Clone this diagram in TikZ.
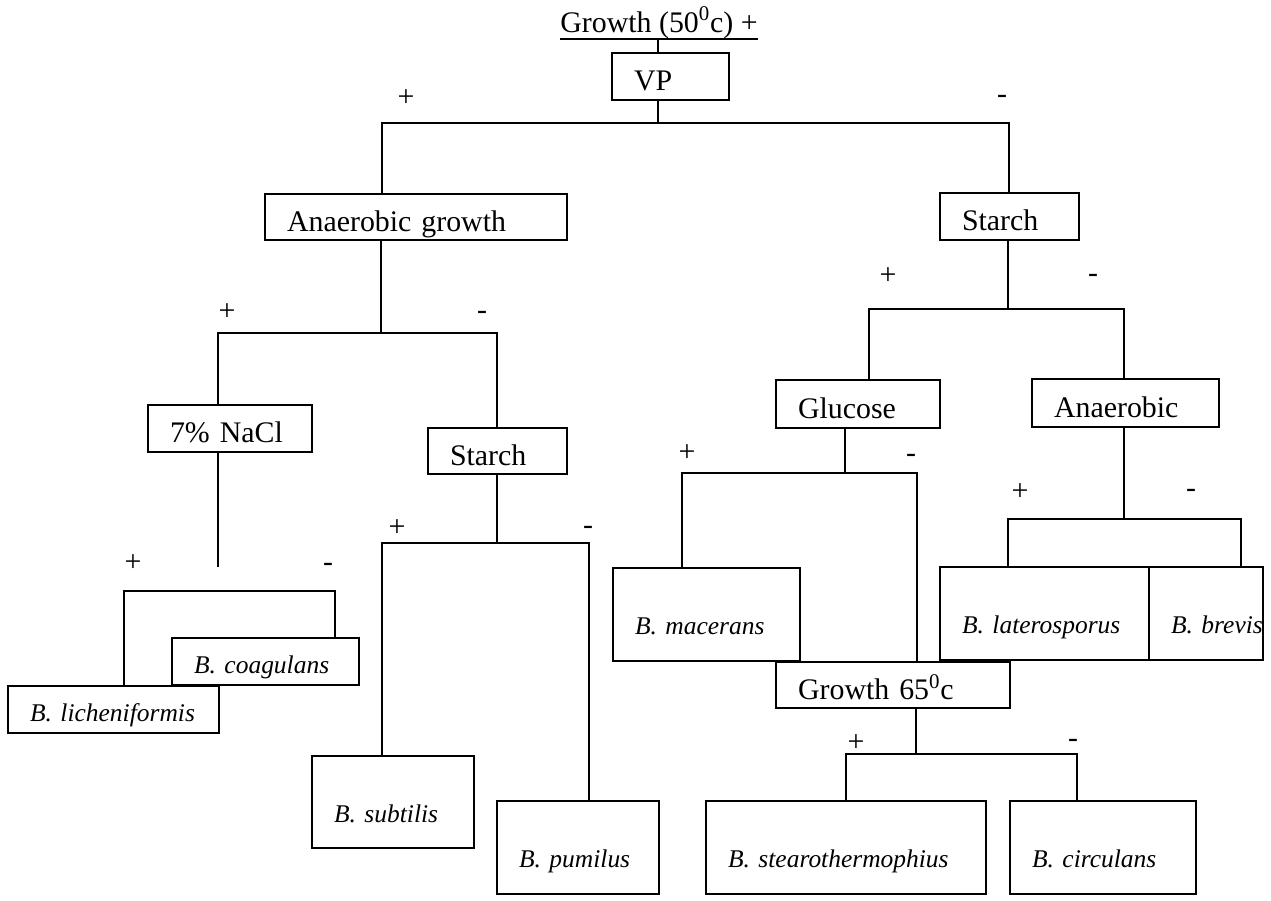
\documentclass[tikz,border=0pt]{standalone}
\usepackage{fontspec}
\setmainfont{Liberation Serif}
\usepackage{tikz}

\tikzstyle{box} = [rectangle, draw=black, line width=1.2pt, anchor=north west, inner xsep=0.44cm, inner ysep=0pt, align=left, text height=0.56cm, text depth=0pt, font=\fontsize{17}{20}\selectfont]
\tikzstyle{species} = [box, text height=0.8cm, font=\itshape\fontsize{14.5}{17}\selectfont]
\tikzstyle{outcome} = [inner sep=0pt, font=\fontsize{17}{20}\selectfont]
\tikzstyle{branch} = [line width=1pt]

\begin{document}
\begin{tikzpicture}[x=0.02cm, y=-0.02cm]

    \useasboundingbox (0,0) rectangle (1271,900);

    % Nodes
    \node (title) [anchor=base west, inner sep=0pt, text depth=0.14cm, font=\fontsize{17}{20}\selectfont] at (560,32) {Growth (50\textsuperscript{0}c) +};
    \node (vp) [box, text width=1.46cm, minimum height=0.94cm] at (611,52) {VP};
    \node (anaer) [box, text width=5.16cm, minimum height=0.92cm] at (264,193) {Anaerobic growth};
    \node (starchR) [box, text width=1.90cm, minimum height=0.94cm] at (939,192) {Starch};
    \node (nacl) [box, text width=2.40cm, minimum height=0.94cm] at (147,404) {7\% NaCl};
    \node (starchL) [box, text width=1.90cm, minimum height=0.92cm] at (427,427) {Starch};
    \node (glucose) [box, text width=2.40cm, minimum height=0.96cm] at (775,379) {Glucose};
    \node (anaerR) [box, text width=2.86cm, minimum height=0.96cm] at (1031,378) {Anaerobic};
    \node (coag) [species, text height=0.48cm, text width=2.86cm, minimum height=0.94cm] at (171,637) {\mbox{B. coagulans}};
    \node (lichen) [species, text height=0.48cm, text width=3.34cm, minimum height=0.94cm] at (7,685) {\mbox{B. licheniformis}};
    \node (subtilis) [species, text width=2.36cm, minimum height=1.84cm] at (311,755) {\mbox{B. subtilis}};
    \node (pumilus) [species, text width=2.36cm, minimum height=1.86cm] at (496,800) {\mbox{B. pumilus}};
    \node (macerans) [species, text width=2.86cm, minimum height=1.86cm] at (612,567) {\mbox{B. macerans}};
    \node (lateros) [species, text width=3.30cm, minimum height=1.86cm] at (939,566) {\mbox{B. laterosporus}};
    \node (brevis) [species, text width=1.40cm, minimum height=1.86cm] at (1148,566) {\mbox{B. brevis}};
    \node (g65) [box, text width=3.80cm, minimum height=0.92cm] at (775,661) {Growth 65\textsuperscript{0}c};
    \node (stearo) [species, text width=4.72cm, minimum height=1.86cm] at (705,800) {\mbox{B. stearothermophius}};
    \node (circ) [species, text width=2.84cm, minimum height=1.86cm] at (1009,800) {\mbox{B. circulans}};

    % Signs
    \node (vpplus) [outcome] at (406,98) {+};
    \node (vpminus) [outcome] at (1002,99) {-};
    \node (anaerplus) [outcome] at (227,312) {+};
    \node (anaerminus) [outcome] at (482,315) {-};
    \node (starchRplus) [outcome] at (888,276) {+};
    \node (starchRminus) [outcome] at (1093,278) {-};
    \node (naclplus) [outcome] at (133,563) {+};
    \node (naclminus) [outcome] at (328,567) {-};
    \node (starchLplus) [outcome] at (397,528) {+};
    \node (starchLminus) [outcome] at (588,530) {-};
    \node (glucoseplus) [outcome] at (687,453) {+};
    \node (glucoseminus) [outcome] at (911,458) {-};
    \node (anaerRplus) [outcome] at (1020,492) {+};
    \node (anaerRminus) [outcome] at (1191,493) {-};
    \node (g65plus) [outcome] at (856,743) {+};
    \node (g65minus) [outcome] at (1073,743) {-};

    % Junctions
    \coordinate (jvp) at (658,123);
    \coordinate (janaer) at (381,333);
    \coordinate (jstarchR) at (1008,309);
    \coordinate (naclend) at (218,567);
    \coordinate (jnacl) at (218,591);
    \coordinate (jstarchL) at (497,543);
    \coordinate (jglucose) at (845,473);
    \coordinate (janaerR) at (1124,519);
    \coordinate (jg65) at (916,754);

    % Lines
    \draw [branch] (title.south west) -- (title.south east);
    \draw [branch] (title.south -| jvp) -- (vp.north -| jvp);
    \draw [branch] (vp.south -| jvp) -- (jvp);
    \draw [branch] (anaer.north -| 382,0) |- (jvp) -| (starchR.north -| 1009,0);
    \draw [branch] (anaer.south -| janaer) -- (janaer);
    \draw [branch] (nacl.north -| 218,0) |- (janaer) -| (starchL.north -| 497,0);
    \draw [branch] (starchR.south -| jstarchR) -- (jstarchR);
    \draw [branch] (glucose.north -| 869,0) |- (jstarchR) -| (anaerR.north -| 1124,0);
    \draw [branch] (nacl.south -| naclend) -- (naclend);
    \draw [branch] (lichen.north -| 124,0) |- (jnacl) -| (coag.north -| 335,0);
    \draw [branch] (starchL.south -| jstarchL) -- (jstarchL);
    \draw [branch] (subtilis.north -| 382,0) |- (jstarchL) -| (pumilus.north -| 589,0);
    \draw [branch] (glucose.south -| jglucose) -- (jglucose);
    \draw [branch] (macerans.north -| 682,0) |- (jglucose) -| (g65.north -| 917,0);
    \draw [branch] (anaerR.south -| janaerR) -- (janaerR);
    \draw [branch] (lateros.north -| 1008,0) |- (janaerR) -| (brevis.north -| 1241,0);
    \draw [branch] (g65.south -| jg65) -- (jg65);
    \draw [branch] (stearo.north -| 846,0) |- (jg65) -| (circ.north -| 1077,0);

\end{tikzpicture}
\end{document}
